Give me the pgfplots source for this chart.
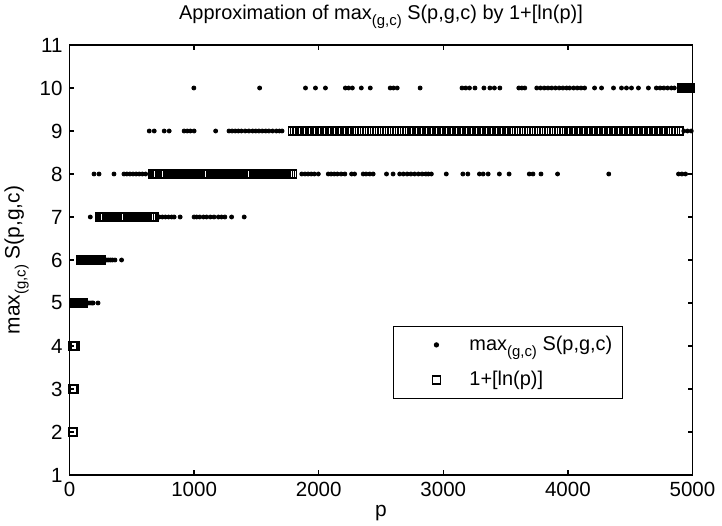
\documentclass[border=0pt]{standalone}
\usepackage{fontspec}
\setmainfont{Liberation Sans}
\usepackage{pgfplots}
\pgfplotsset{compat=1.18}
\newcommand\sub[1]{\raisebox{-0.55ex}{\fontsize{7.5}{8}\selectfont #1}}
\begin{document}
\begin{tikzpicture}
\begin{axis}[
 at={(0,0)}, anchor=south west,
 scale only axis, width=311.5bp, height=215bp,
 xmin=0, xmax=5000, ymin=1, ymax=11,
 xtick={0,1000,...,5000}, ytick={1,2,...,11},
 tick align=inside, major tick length=2.5bp,
 scaled x ticks=false,
 /pgf/number format/assume math mode=true,
 /pgf/number format/1000 sep={},
 ticklabel style={font=\fontsize{10.3}{12}\selectfont},
 axis line style={line width=0.8bp},
 every tick/.style={line width=0.6bp, black},
 title={Approximation of max\sub{(g,c)} S(p,g,c) by 1+[ln(p)]},
 title style={at={(axis description cs:0.5,1.065)}, anchor=center, yshift=-6pt, font=\fontsize{10}{12}\selectfont},
 xlabel={p},
 xlabel style={at={(axis description cs:0.5,-0.088)}, anchor=center, font=\fontsize{10.5}{12}\selectfont},
 ylabel={max\sub{(g,c)} S(p,g,c)},
 ylabel style={at={(axis description cs:-0.085,0.5)}, anchor=center, font=\fontsize{10.5}{12}\selectfont},
 legend style={at={(rel axis cs:0.519,0.347)}, anchor=north west, draw=black, line width=0.6bp,
   inner xsep=3bp, inner ysep=1bp, row sep=1bp, column sep=12.5bp,
   nodes={inner sep=2bp, text height=9bp, text depth=3.5bp},
   font=\fontsize{10}{12}\selectfont, cells={anchor=west}},
]
\addplot[only marks, mark=*, mark size=1bp, black,
  legend image code/.code={\path[draw=none,fill=none] (-18.5bp,-1bp) rectangle (1bp,1bp); \draw[black,only marks,mark=*,mark size=1bp] plot coordinates {(0bp,0bp)};}] coordinates {
(136,5)(150,5)(165,5)(180,5)(190,5)(229,5)
(285,6)(300,6)(315,6)(330,6)(345,6)(365,6)(418,6)
(167,7)(720,7)(745,7)(770,7)(795,7)(820,7)(840,7)(888,7)(1000,7)(1020,7)(1045,7)(1075,7)(1100,7)(1130,7)(1160,7)(1195,7)(1220,7)(1247,7)(1301,7)(1402,7)
(197,8)(237,8)(357,8)(437,8)(460,8)(485,8)(510,8)(535,8)(560,8)(585,8)(611,8)(1864,8)(1890,8)(1915,8)(1940,8)(1965,8)(1997,8)(2077,8)(2100,8)(2125,8)(2150,8)(2180,8)(2210,8)(2264,8)(2288,8)(2357,8)(2380,8)(2410,8)(2437,8)(2544,8)(2597,8)(2650,8)(2680,8)(2710,8)(2740,8)(2770,8)(2800,8)(2830,8)(2860,8)(2880,8)(2904,8)(3024,8)(3157,8)(3197,8)(3290,8)(3320,8)(3360,8)(3450,8)(3528,8)(3690,8)(3720,8)(3784,8)(3917,8)(4328,8)(4888,8)(4915,8)(4944,8)
(640,9)(680,9)(760,9)(800,9)(920,9)(945,9)(970,9)(1000,9)(1173,9)(1280,9)(1305,9)(1330,9)(1355,9)(1380,9)(1410,9)(1440,9)(1470,9)(1495,9)(1520,9)(1547,9)(1575,9)(1600,9)(1630,9)(1660,9)(1685,9)(1706,9)(4930,9)(4960,9)(4990,9)
(998,10)(1526,10)(1894,10)(1974,10)(2054,10)(2214,10)(2240,10)(2270,10)(2342,10)(2414,10)(2574,10)(2600,10)(2630,10)(2814,10)(3150,10)(3180,10)(3210,10)(3254,10)(3326,10)(3374,10)(3410,10)(3454,10)(3606,10)(3630,10)(3654,10)(3750,10)(3780,10)(3810,10)(3840,10)(3870,10)(3900,10)(3930,10)(3960,10)(3990,10)(4014,10)(4046,10)(4075,10)(4105,10)(4134,10)(4214,10)(4270,10)(4366,10)(4430,10)(4470,10)(4510,10)(4566,10)(4646,10)(4710,10)(4740,10)(4770,10)(4800,10)(4830,10)(4854,10)
};
\addlegendentry{max\sub{(g,c)} S(p,g,c)}
\addplot[only marks, mark=square, mark size=2bp, black, mark options={line width=0.65bp},
  legend image code/.code={\path[draw=none,fill=none] (-18.5bp,-1bp) rectangle (1bp,1bp); \draw[black,only marks,mark=square,mark size=2bp,line width=0.65bp] plot coordinates {(0bp,0bp)};}] coordinates {
(22,2)(27,2)
(27,3)(31,3)(35,3)
(22,4)(28,4)(34,4)(40,4)(44,4)
(32,5)(42,5)(52,5)(62,5)(72,5)(82,5)(92,5)(102,5)(108,5)
(88,6)(98,6)(108,6)(118,6)(128,6)(138,6)(148,6)(158,6)(168,6)(178,6)(188,6)(198,6)(208,6)(218,6)(228,6)(238,6)(248,6)(254,6)
(238,7)(253,7)(268,7)(283,7)(298,7)(313,7)(328,7)(343,7)(358,7)(373,7)(388,7)(403,7)(418,7)(433,7)(448,7)(463,7)(478,7)(493,7)(508,7)(523,7)(538,7)(553,7)(568,7)(583,7)(598,7)(613,7)(628,7)(643,7)(658,7)(670,7)(682,7)
(668,8)(679,8)(694,8)(709,8)(724,8)(739,8)(754,8)(769,8)(784,8)(799,8)(814,8)(829,8)(844,8)(859,8)(874,8)(889,8)(904,8)(919,8)(934,8)(949,8)(964,8)(979,8)(994,8)(1009,8)(1024,8)(1039,8)(1054,8)(1069,8)(1084,8)(1099,8)(1114,8)(1129,8)(1144,8)(1159,8)(1174,8)(1189,8)(1204,8)(1219,8)(1234,8)(1249,8)(1264,8)(1279,8)(1294,8)(1309,8)(1324,8)(1339,8)(1354,8)(1369,8)(1384,8)(1399,8)(1414,8)(1429,8)(1444,8)(1459,8)(1474,8)(1489,8)(1504,8)(1519,8)(1534,8)(1549,8)(1564,8)(1579,8)(1594,8)(1609,8)(1624,8)(1639,8)(1654,8)(1669,8)(1684,8)(1699,8)(1714,8)(1729,8)(1744,8)(1759,8)(1774,8)(1789,8)(1792,8)
(1790,9)(1806,9)(1826,9)(1846,9)(1866,9)(1886,9)(1906,9)(1926,9)(1946,9)(1966,9)(1986,9)(2006,9)(2026,9)(2046,9)(2066,9)(2086,9)(2106,9)(2126,9)(2146,9)(2166,9)(2186,9)(2206,9)(2226,9)(2246,9)(2266,9)(2286,9)(2306,9)(2326,9)(2346,9)(2366,9)(2386,9)(2406,9)(2426,9)(2446,9)(2466,9)(2486,9)(2506,9)(2526,9)(2546,9)(2566,9)(2586,9)(2606,9)(2626,9)(2646,9)(2666,9)(2686,9)(2706,9)(2726,9)(2746,9)(2766,9)(2786,9)(2806,9)(2826,9)(2846,9)(2866,9)(2886,9)(2906,9)(2926,9)(2946,9)(2966,9)(2986,9)
(3006,9)(3026,9)(3046,9)(3066,9)(3086,9)(3106,9)(3126,9)(3146,9)(3166,9)(3186,9)(3206,9)(3226,9)(3246,9)(3266,9)(3286,9)(3306,9)(3326,9)(3346,9)(3366,9)(3386,9)(3406,9)(3426,9)(3446,9)(3466,9)(3486,9)(3506,9)(3526,9)(3546,9)(3566,9)(3586,9)(3606,9)(3626,9)(3646,9)(3666,9)(3686,9)(3706,9)(3726,9)(3746,9)(3766,9)(3786,9)(3806,9)(3826,9)(3846,9)(3866,9)(3886,9)(3906,9)(3926,9)(3946,9)(3966,9)(3986,9)
(4006,9)(4026,9)(4046,9)(4066,9)(4086,9)(4106,9)(4126,9)(4146,9)(4166,9)(4186,9)(4206,9)(4226,9)(4246,9)(4266,9)(4286,9)(4306,9)(4326,9)(4346,9)(4366,9)(4386,9)(4406,9)(4426,9)(4446,9)(4466,9)(4486,9)(4506,9)(4526,9)(4546,9)(4566,9)(4586,9)(4606,9)(4626,9)(4646,9)(4666,9)(4686,9)(4706,9)(4726,9)(4746,9)(4766,9)(4786,9)(4806,9)(4826,9)(4846,9)(4866,9)(4886,9)(4896,9)
(4914,10)(4922,10)(4930,10)(4940,10)(4950,10)(4960,10)(4970,10)(4978,10)(4984,10)
};
\addlegendentry{1+[ln(p)]}
\end{axis}
\pgfresetboundingbox
\useasboundingbox (-34.75bp,-25.5bp) rectangle (326.25bp,237.5bp);
\end{tikzpicture}
\end{document}
